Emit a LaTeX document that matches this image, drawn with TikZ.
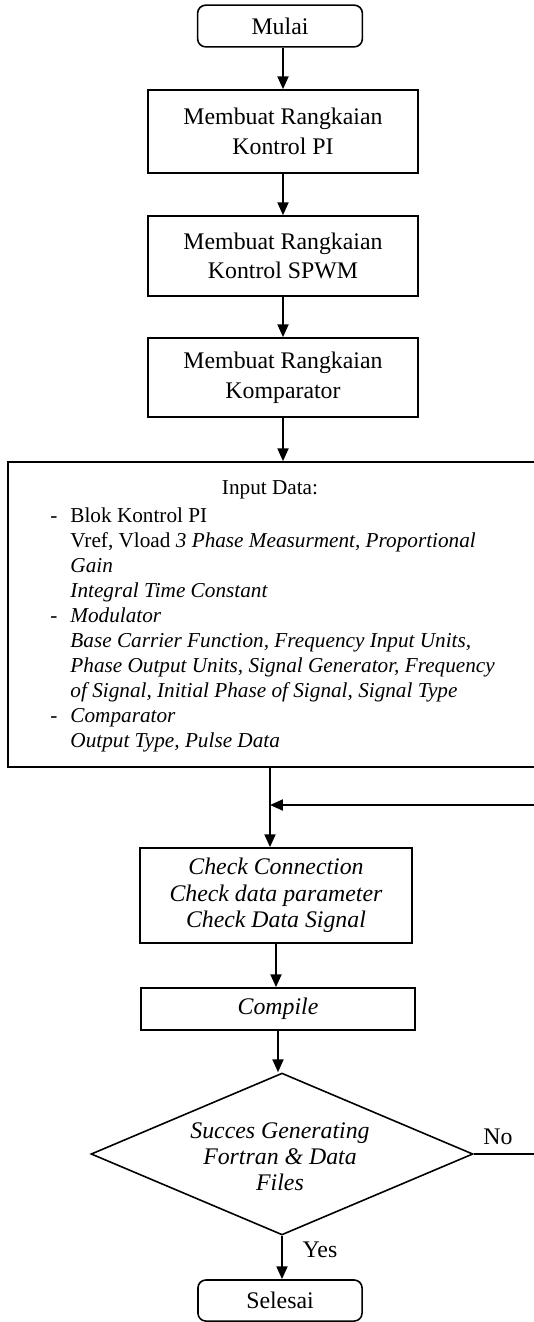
\documentclass[tikz,border=0pt]{standalone}
\usepackage{fontspec}
\setmainfont{Liberation Serif}
\usetikzlibrary{arrows.meta,positioning,calc,shapes.geometric}

\begin{document}
\begin{tikzpicture}[x=0.504pt,y=-0.504pt,
	box/.style={draw, rectangle, line width=0.8pt, minimum width=136pt, inner sep=0pt, align=center, font=\fontsize{12}{15}\selectfont},
	term/.style={draw, rectangle, rounded corners=4pt, line width=0.8pt, minimum width=83pt, minimum height=21pt, inner sep=0pt, font=\fontsize{12}{14}\selectfont},
	decision/.style={draw, diamond, line width=0.8pt, inner sep=0pt, minimum width=192.5pt, minimum height=81.6pt},
	flow/.style={line width=1.1pt, -{Triangle[width=5.5pt,length=6.5pt]}},
	lbl/.style={inner sep=0pt, font=\fontsize{12}{14}\selectfont}]

	\useasboundingbox (0,0) rectangle (533,1322);

	\node (start) at (280,26) [term] {Mulai};
	\node (b1) at (283,131.5) [box, minimum height=41.8pt] {Membuat Rangkaian\\Kontrol PI};
	\node (b2) at (283,256) [box, minimum height=40.3pt] {Membuat Rangkaian\\Kontrol SPWM};
	\node (b3) at (283,377.5) [box, minimum height=39.8pt] {Membuat Rangkaian\\Komparator};

	% input data box, runs past the right edge
	\node (inp) at (276.5,614.5) [draw, line width=0.8pt, minimum width=270.6pt, minimum height=153.7pt, inner sep=0pt] {};
	\node (inhead) at (270,490) [lbl, font=\fontsize{10.7}{12.6}\selectfont] {Input Data:};
	\node (inlist) at (50,507.5) [anchor=north west, inner sep=0pt, align=left, font=\fontsize{10.7}{12.6}\selectfont]
		{\makebox[10.1pt][l]{-}Blok Kontrol PI\\
		\hspace*{10.1pt}Vref, Vload \textit{3 Phase Measurment, Proportional}\\
		\hspace*{10.1pt}\textit{Gain}\\
		\hspace*{10.1pt}\textit{Integral Time Constant}\\
		\makebox[10.1pt][l]{-}\textit{Modulator}\\
		\hspace*{10.1pt}\textit{Base Carrier Function, Frequency Input Units,}\\
		\hspace*{10.1pt}\textit{Phase Output Units, Signal Generator, Frequency}\\
		\hspace*{10.1pt}\textit{of Signal, Initial Phase of Signal, Signal Type}\\
		\makebox[10.1pt][l]{-}\textit{Comparator}\\
		\hspace*{10.1pt}\textit{Output Type, Pulse Data}};

	\node (check) at (276,895.5) [box, minimum width=137pt, minimum height=47.9pt, font=\fontsize{12}{13.4}\selectfont\itshape] {Check Connection\\Check data parameter\\Check Data Signal};
	\node (comp) at (278,1009) [box, minimum width=138pt, minimum height=21.2pt, font=\fontsize{12}{14}\selectfont\itshape] {Compile};

	\node (dec) at (282,1154) [decision] {};
	\node (dectext) at (280,1157) [lbl, align=center, font=\fontsize{12}{13.1}\selectfont\itshape] {Succes Generating\\Fortran \& Data\\Files};

	\node (stop) at (280,1300.5) [term, minimum width=82.7pt, minimum height=20.7pt] {Selesai};

	\node (nolbl) at (498,1137) [lbl] {No};
	\node (yeslbl) at (320,1250) [lbl] {Yes};

	\coordinate (rt) at (548,805);
	\coordinate (vx) at (270,805);

	\draw [flow] (start.south -| b1.north) -- (b1.north);
	\draw [flow] (b1) -- (b2);
	\draw [flow] (b2) -- (b3);
	\draw [flow] (b3.south) -- (b3.south |- inp.north);
	\draw [flow] (inp.south -| vx) -- (check.north -| vx);
	\draw [flow] (check.south) -- (check.south |- comp.north);
	\draw [flow] (comp.south) -- (comp.south |- dec.north);
	\draw [flow] (dec.south) -- (dec.south |- stop.north);
	\draw [line width=1.1pt] (dec.east) -- (dec.east -| rt) -- (rt);
	\draw [flow] (rt) -- (vx);
\end{tikzpicture}
\end{document}
